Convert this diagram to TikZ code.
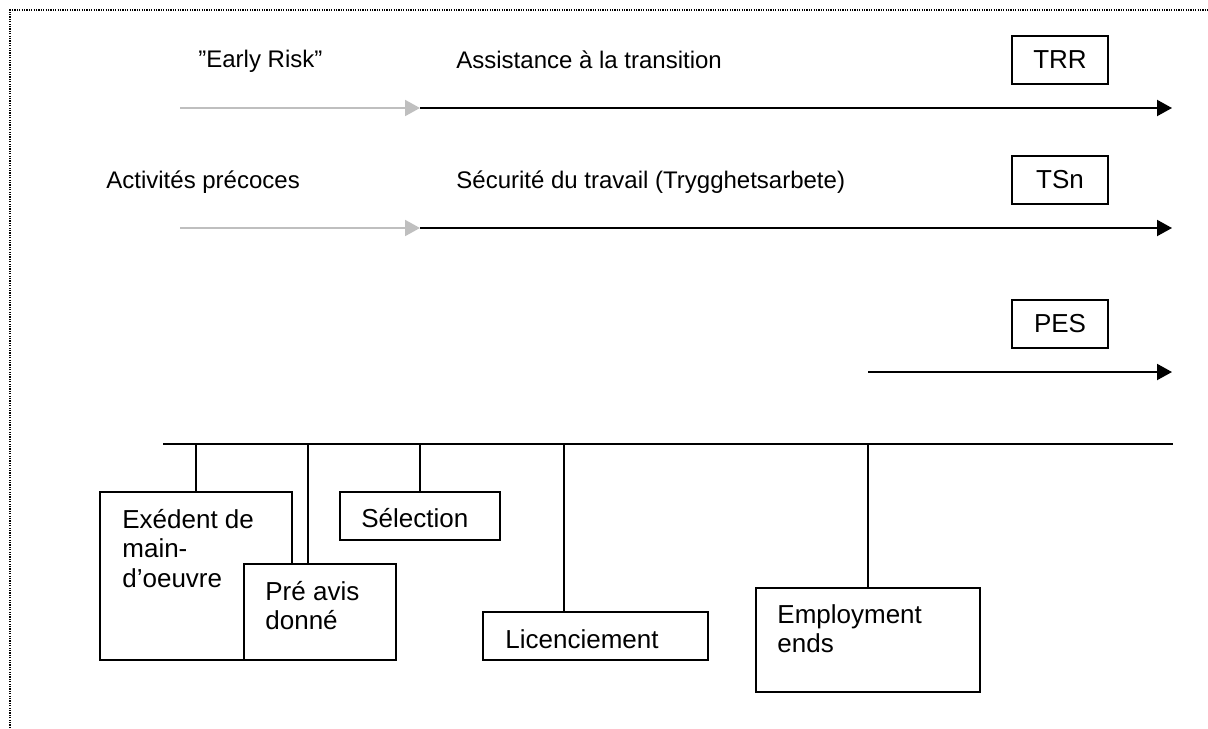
\documentclass[tikz,border=0pt]{standalone}
\usepackage{fontspec}
\setmainfont{Liberation Sans}
\usetikzlibrary{arrows.meta}
\begin{document}
\begin{tikzpicture}[x=0.5pt,y=-0.5pt,
  every node/.style={font=\fontsize{12}{14.75}\selectfont, inner sep=0pt},
  boxfont/.style={font=\fontsize{13}{14.75}\selectfont},
  box/.style={draw, line width=0.85pt, fill=white, rectangle, boxfont},
  lbl/.style={anchor=base west},
  blbl/.style={anchor=base west, boxfont},
  tl/.style={line width=0.85pt},
  blackarrow/.style={line width=1pt, -{Triangle[length=7.5pt,width=8pt]}},
  grayarrow/.style={line width=1pt, draw=gray!50, -{Triangle[length=7.5pt,width=8pt, fill=gray!50]}},
  border/.style={line width=1pt, dash pattern=on 0.6pt off 0.6pt}]
\useasboundingbox (0,0) rectangle (1208,728);
% dotted frame
\coordinate (fb) at (10,728);
\coordinate (fc) at (10,10);
\coordinate (fr) at (1208,10);
\draw[border] (fb) -- (fc) -- (fr);

% row 1
\node[lbl] (early) at (198,67) {”Early Risk”};
\node[lbl] (assist) at (456,68) {Assistance à la transition};
\node[box, minimum width=48pt, minimum height=24pt] (trr) at (1060,60) {TRR};
\coordinate (a1s) at (180,108);
\coordinate (a1m) at (420,108);
\coordinate (a1e) at (1172,108);
\draw[grayarrow] (a1s) -- (a1m);
\draw[blackarrow] (a1m) -- (a1e);

% row 2
\node[lbl] (activ) at (106,188) {Activités précoces};
\node[lbl] (secur) at (456,188) {Sécurité du travail (Trygghetsarbete)};
\node[box, minimum width=48pt, minimum height=24pt] (tsn) at (1060,180) {TSn};
\coordinate (a2s) at (180,228);
\coordinate (a2m) at (420,228);
\coordinate (a2e) at (1172,228);
\draw[grayarrow] (a2s) -- (a2m);
\draw[blackarrow] (a2m) -- (a2e);

% row 3
\node[box, minimum width=48pt, minimum height=24pt] (pes) at (1060,324) {PES};
\coordinate (a3s) at (868,372);
\coordinate (a3e) at (1172,372);
\draw[blackarrow] (a3s) -- (a3e);

% time line
\coordinate (ls) at (163,444);
\coordinate (le) at (1173,444);
\draw[tl] (ls) -- (le);
\coordinate (t1) at (196,444);
\coordinate (t2) at (308,444);
\coordinate (t3) at (420,444);
\coordinate (t4) at (564,444);
\coordinate (t5) at (868,444);

% boxes
\node[box, minimum width=96pt, minimum height=84pt] (exed) at (196,576) {};
\node[blbl] (exedt) at (122,528) {\begin{tabular}[t]{@{}l@{}}Exédent de\\main-\\d’oeuvre\end{tabular}};
\node[box, minimum width=76pt, minimum height=48pt] (preavis) at (320,612) {};
\node[blbl] (preavist) at (265,600) {\begin{tabular}[t]{@{}l@{}}Pré avis\\donné\end{tabular}};
\node[box, minimum width=80pt, minimum height=24pt] (selec) at (420,516) {};
\node[blbl] (select) at (361,527) {Sélection};
\node[box, minimum width=112.5pt, minimum height=24pt] (licen) at (595.5,636) {};
\node[blbl] (licent) at (505,648) {Licenciement};
\node[box, minimum width=112pt, minimum height=52pt] (employ) at (868,640) {};
\node[blbl] (employt) at (777,623) {\begin{tabular}[t]{@{}l@{}}Employment\\ends\end{tabular}};

% connectors
\draw[tl] (t1) -- (exed.north);
\draw[tl] (t2) -- (t2 |- preavis.north);
\draw[tl] (t3) -- (selec.north);
\draw[tl] (t4) -- (t4 |- licen.north);
\draw[tl] (t5) -- (employ.north);
\end{tikzpicture}
\end{document}
